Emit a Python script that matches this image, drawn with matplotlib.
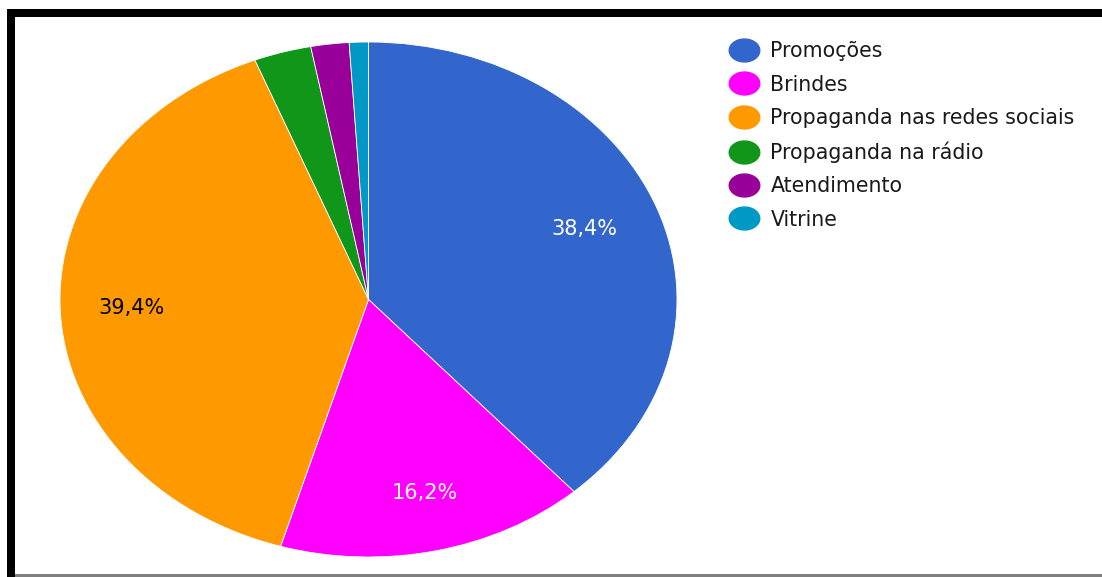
import matplotlib
matplotlib.use("Agg")
import matplotlib.pyplot as plt
from matplotlib.patches import Rectangle
from matplotlib.lines import Line2D
from matplotlib.path import Path
import numpy as np

categories = ["Promoções", "Brindes", "Propaganda nas redes sociais",
              "Propaganda na rádio", "Atendimento", "Vitrine"]
values = [38.4, 16.2, 39.4, 3.0, 2.0, 1.0]
colors = ["#3366cc", "#ff00ff", "#ff9900", "#109618", "#990099", "#0099c6"]
label_colors = ["white", "white", "black", "white", "white", "white"]

W, H = 1102, 577
plt.rcParams['font.family'] = ['DejaVu Sans']
fig = plt.figure(figsize=(W / 100, H / 100), dpi=100)

def px(x0, y0, x1, y1):
    # pixel box (from top-left) -> figure fraction [left, bottom, width, height]
    return [x0 / W, 1 - y1 / H, (x1 - x0) / W, (y1 - y0) / H]

ax = fig.add_axes(px(60, 42, 677, 557))

def fmt(p):
    return ("%.1f%%" % p).replace(".", ",") if p >= 5 else ""

wedges, texts, autotexts = ax.pie(
    values, colors=colors, startangle=90, counterclock=False,
    autopct=fmt, pctdistance=0.77,
    wedgeprops=dict(edgecolor="white", linewidth=0.6),
    textprops=dict(fontsize=15))
for t, c in zip(autotexts, label_colors):
    t.set_color(c)
autotexts[0].set_x(autotexts[0].get_position()[0] - 0.02)
autotexts[1].set_x(autotexts[1].get_position()[0] + 0.015)
ax.set_aspect('auto')
ax.set_xlim(-1, 1)
ax.set_ylim(-1, 1)
ax.axis('off')

# ellipse marker for legend
th = np.linspace(0, 2 * np.pi, 60)
ell = Path(np.column_stack([np.cos(th), 0.75 * np.sin(th)]))
handles = [Line2D([], [], linestyle='none', marker=ell, markersize=22,
                  markerfacecolor=c, markeredgecolor=c) for c in colors]
leg = fig.legend(handles, categories, loc='upper left',
                 bbox_to_anchor=(720 / W, 1 - 31 / H),
                 frameon=False, fontsize=14.8, labelspacing=0.65,
                 handlelength=1.3, handletextpad=0.65, borderpad=0)
for t in leg.get_texts():
    t.set_color("#1a1a1a")

# frame decorations
for (x0, y0, x1, y1, c) in [(7, 9, W, 17, "black"), (7, 9, 15, H, "black"),
                            (15, 574, W, 577, "#7f7f7f")]:
    fig.add_artist(Rectangle(px(x0, y0, x1, y1)[:2], (x1 - x0) / W, (y1 - y0) / H,
                             transform=fig.transFigure, facecolor=c,
                             edgecolor='none'))

fig.savefig("out.png", dpi=100)
